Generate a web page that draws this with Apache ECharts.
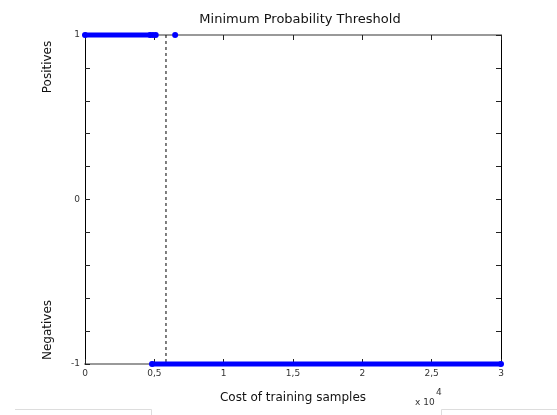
<!DOCTYPE html>
<html>
<head>
<meta charset="utf-8">
<script src="https://cdn.jsdelivr.net/npm/echarts@6/dist/echarts.min.js"></script>
<style>
html,body{margin:0;padding:0;background:#fff;}
#chart{width:557px;height:415px;}
</style>
</head>
<body>
<div id="chart"></div>
<script>
// Data
var xTickLabels = ['0', '0,5', '1', '1,5', '2', '2,5', '3'];
var yTickLabels = {'-1': '-1', '0': '0', '1': '1'};
var positiveBand = [[0, 1], [4700, 1]];          // dense run of positive samples
var positivePoints = [[4900, 1], [5100, 1], [6500, 1]];
var negativeBand = [[4830, -1], [30000, -1]];    // dense run of negative samples
var thresholdX = 5840;
var thresholdLine = [[thresholdX, 1], [thresholdX, -1]];

var chart = echarts.init(document.getElementById('chart'));
var font = 'DejaVu Sans';
var blue = '#0000ff';
var option = {
  animation: false,
  backgroundColor: '#fff',
  title: {
    text: 'Minimum Probability Threshold',
    left: 295, top: 8, textAlign: 'center',
    textStyle: {fontFamily: font, fontSize: 13, fontWeight: 'normal', color: '#111'}
  },
  grid: {left: 85, top: 35, width: 416, height: 329},
  xAxis: [{
    type: 'value', min: 0, max: 30000, interval: 5000, position: 'bottom',
    axisLine: {show: true, onZero: false, lineStyle: {color: '#999', width: 2}},
    axisTick: {show: true, inside: true, length: 5, lineStyle: {color: '#222'}},
    axisLabel: {fontFamily: font, fontSize: 9, color: '#333', margin: 5,
      formatter: function (v) { return xTickLabels[Math.round(v / 5000)]; }},
    splitLine: {show: false}
  }, {
    type: 'value', min: 0, max: 30000, interval: 5000, position: 'top',
    axisLine: {show: true, onZero: false, lineStyle: {color: '#999', width: 2}},
    axisTick: {show: true, inside: true, length: 5, lineStyle: {color: '#222'}},
    axisLabel: {show: false}, splitLine: {show: false}
  }],
  yAxis: [{
    type: 'value', min: -1, max: 1, interval: 0.2, position: 'left',
    axisLine: {show: true, onZero: false, lineStyle: {color: '#000', width: 1}},
    axisTick: {show: true, inside: true, length: 5, lineStyle: {color: '#222'}},
    axisLabel: {fontFamily: font, fontSize: 9, color: '#333', margin: 5,
      formatter: function (v) {
        var r = Math.round(v);
        if (Math.abs(v - r) < 1e-6 && yTickLabels[String(r)] !== undefined) return yTickLabels[String(r)];
        return '';
      }},
    splitLine: {show: false}
  }, {
    type: 'value', min: -1, max: 1, interval: 0.2, position: 'right',
    axisLine: {show: true, onZero: false, lineStyle: {color: '#000', width: 1}},
    axisTick: {show: true, inside: true, length: 5, lineStyle: {color: '#222'}},
    axisLabel: {show: false}, splitLine: {show: false}
  }],
  series: [{
    type: 'line', data: positiveBand, clip: false, symbol: 'circle', symbolSize: 6,
    itemStyle: {color: blue, opacity: 1}, lineStyle: {color: blue, width: 5}, z: 5
  }, {
    type: 'scatter', data: positivePoints, clip: false, symbol: 'circle', symbolSize: 6,
    itemStyle: {color: blue, opacity: 1}, z: 5
  }, {
    type: 'line', data: negativeBand, clip: false, symbol: 'circle', symbolSize: 6,
    itemStyle: {color: blue, opacity: 1}, lineStyle: {color: blue, width: 5}, z: 5
  }, {
    type: 'line', data: thresholdLine, clip: false, symbol: 'none',
    lineStyle: {color: '#000', width: 1, type: [3, 3]}, z: 4
  }],
  graphic: [{
    type: 'text', x: 48, y: 67, rotation: Math.PI / 2,
    style: {text: 'Positives', font: '12px "DejaVu Sans"', fill: '#111', textAlign: 'center', textVerticalAlign: 'middle'}
  }, {
    type: 'text', x: 48, y: 330, rotation: Math.PI / 2,
    style: {text: 'Negatives', font: '12px "DejaVu Sans"', fill: '#111', textAlign: 'center', textVerticalAlign: 'middle'}
  }, {
    type: 'text', x: 293, y: 398,
    style: {text: 'Cost of training samples', font: '12px "DejaVu Sans"', fill: '#111', textAlign: 'center', textVerticalAlign: 'middle'}
  }, {
    type: 'text', x: 415, y: 403,
    style: {text: 'x 10', font: '9px "DejaVu Sans"', fill: '#333', textVerticalAlign: 'middle'}
  }, {
    type: 'text', x: 436, y: 393,
    style: {text: '4', font: '9px "DejaVu Sans"', fill: '#333', textVerticalAlign: 'middle'}
  }, {
    type: 'polyline', shape: {points: [[15, 409.5], [151.5, 409.5], [151.5, 415]]},
    style: {stroke: '#ddd', lineWidth: 1, fill: null}
  }, {
    type: 'polyline', shape: {points: [[441.5, 415], [441.5, 409.5], [557, 409.5]]},
    style: {stroke: '#ddd', lineWidth: 1, fill: null}
  }]
};
chart.setOption(option);
</script>
</body>
</html>
